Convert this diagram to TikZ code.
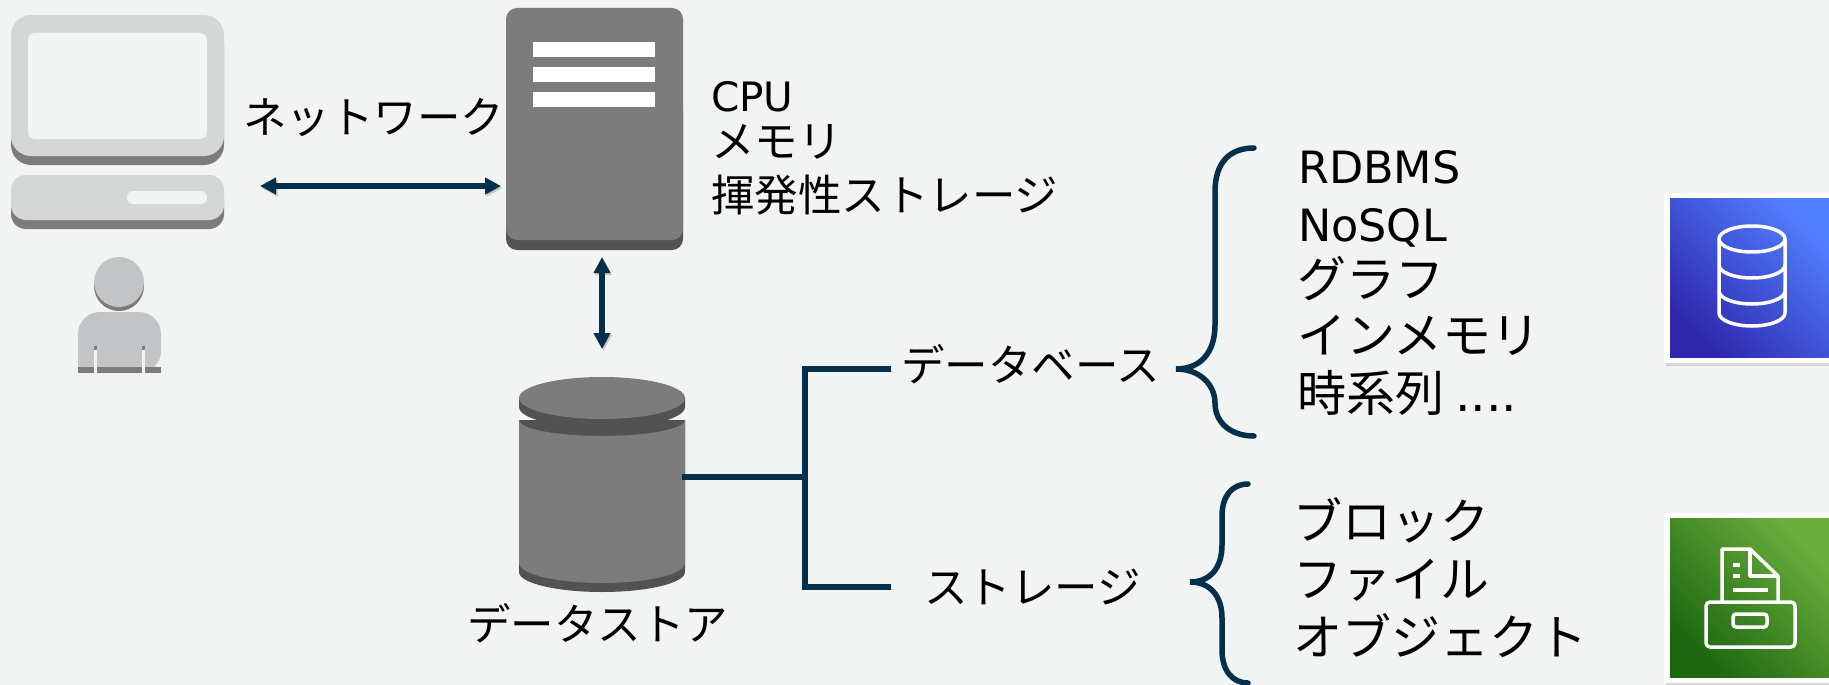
\documentclass[tikz,border=0pt]{standalone}
\usepackage{fontspec}
\setmainfont{Noto Sans CJK JP}
\newfontfamily\latinfont{DejaVu Sans}
\usetikzlibrary{arrows.meta}
\definecolor{fond}{HTML}{F2F4F3}
\definecolor{encre}{HTML}{04304B}
\definecolor{clair}{HTML}{D5D6D6}
\definecolor{moyen}{HTML}{7C7C7C}
\definecolor{sombre}{HTML}{525252}
\definecolor{buste}{HTML}{C3C4C6}
\definecolor{bleuA}{HTML}{2E27AD}
\definecolor{bleuB}{HTML}{527FFF}
\definecolor{vertA}{HTML}{1B660F}
\definecolor{vertB}{HTML}{6CAE3E}
\begin{document}
\begin{tikzpicture}[x=1pt,y=-1pt]
  \tikzstyle{texte}=[anchor=base west, inner sep=0pt, text=black, font=\fontsize{43.5}{50}\selectfont]
  \tikzstyle{grand}=[texte, font=\fontsize{49}{56}\selectfont]
  \tikzstyle{bloc}=[inner sep=0pt, anchor=north west]
  \tikzstyle{ombre}=[preaction={draw=black, opacity=.18, transform canvas={shift={(1.5pt,-2pt)}}}]
  \tikzstyle{lien}=[draw=encre, line width=6.5pt, ombre]
  \tikzstyle{fleche}=[{Triangle[length=16pt,width=16pt]}-{Triangle[length=16pt,width=16pt]}, draw=encre, line width=5.5pt]
  \tikzstyle{accolade}=[draw=encre, line width=5.5pt, line cap=round, ombre]
  \tikzstyle{trait}=[draw=white, line width=3.5pt, line join=round]
  \useasboundingbox (0,0) rectangle (1829,685);
  \fill[fond] (0,0) rectangle (1829,685);

  % poste
  \fill[moyen, rounded corners=20pt] (11,26) rectangle (224,165);
  \fill[clair, rounded corners=20pt] (11,15) rectangle (224,156);
  \fill[fond, rounded corners=7pt] (28,33) rectangle (207,139);
  \fill[moyen, rounded corners=15pt] (11,185) rectangle (224,229);
  \fill[clair, rounded corners=15pt] (11,175) rectangle (224,220);
  \fill[fond, rounded corners=6pt] (127,191) rectangle (207,204);
  \fill[moyen] (119,286) circle (25);
  \fill[buste] (119,282) circle (25);
  \fill[buste, rounded corners=22pt] (78,373) -- (78,312) -- (161,312) -- (161,373) [sharp corners] -- cycle;
  \fill[moyen] (78,367) rectangle (161,373);
  \foreach \x in {94,142} {
    \fill[moyen] (\x,346) rectangle ++(3,4);
    \fill[fond] (\x,350) rectangle ++(3,23);
  }

  % serveur
  \fill[sombre, rounded corners=11pt] (506,100) rectangle (683,250);
  \fill[moyen, rounded corners=11pt] (506,8) rectangle (683,240);
  \foreach \y in {42,67,92} {
    \fill[white] (533,\y) rectangle ++(122,15);
  }

  % base
  \fill[sombre] (519,420) -- (519,572) arc[start angle=180, end angle=0, x radius=83, y radius=20] -- (685,420) -- cycle;
  \fill[moyen] (519,420) -- (519,563) arc[start angle=180, end angle=0, x radius=83, y radius=20] -- (685,420) arc[start angle=0, end angle=180, x radius=83, y radius=16] -- cycle;
  \fill[sombre] (519,398) -- (519,407) arc[start angle=180, end angle=0, x radius=83, y radius=21] -- (685,398) -- cycle;
  \fill[moyen] (602,398) ellipse[x radius=83, y radius=21];

  \coordinate (posteD) at (260,186);
  \coordinate (serveurG) at (501,186);
  \coordinate (serveurB) at (602,257);
  \coordinate (baseH) at (602,349);
  \coordinate (baseD) at (682,477);
  \coordinate (noeudM) at (805,477);
  \coordinate (noeudH) at (805,369);
  \coordinate (noeudB) at (805,587);
  \coordinate (finH) at (891,369);
  \coordinate (finB) at (891,587);

  \draw[fleche, ombre] (posteD) -- (serveurG);
  \draw[fleche, ombre] (serveurB) -- (baseH);
  \draw[lien] (baseD) -- (noeudM);
  \draw[lien, line cap=butt] (finH) -- (noeudH) -- (noeudB) -- (finB);

  % accolades
  \draw[accolade] (1254,148) .. controls (1230,148) and (1215,162) .. (1215,192)
    -- (1215,325) .. controls (1215,353) and (1200,369) .. (1176,369)
    .. controls (1200,369) and (1215,385) .. (1215,403)
    .. controls (1215,422) and (1230,436) .. (1254,436);
  \draw[accolade] (1248,484) .. controls (1232,484) and (1222,496) .. (1222,516)
    -- (1222,545) .. controls (1222,568) and (1210,582) .. (1190,582)
    .. controls (1210,582) and (1222,596) .. (1222,618)
    -- (1222,650) .. controls (1222,670) and (1232,683) .. (1248,683);

  % textes
  \foreach \n/\x/\y/\t in {reseau/243/133/ネットワーク,
      memoire/711/157/メモリ, volatile/711/211/揮発性ストレージ,
      magasin/467/640/データストア, dbase/901/381/データベース,
      stockage/924/603/ストレージ} {
    \node[texte] (\n) at (\x,\y) {\t};
  }
  \foreach \n/\x/\y/\t in {graphe/1297/297/グラフ, inmem/1297/353/インメモリ,
      bloc/1293/539/ブロック, fichier/1293/597/ファイル, objet/1293/655/オブジェクト} {
    \node[grand] (\n) at (\x,\y) {\t};
  }
  \node[texte, font=\fontsize{40.5}{50}\selectfont] (cpu) at (711,111) {\latinfont CPU};
  \foreach \n/\y/\t in {rdbms/183/RDBMS, nosql/241/NoSQL} {
    \node[texte, font=\fontsize{44.5}{50}\selectfont] (\n) at (1298,\y) {\latinfont\t};
  }
  \node[grand] (temps) at (1297,411) {時系列 {\latinfont ....}};

  % icones
  \fill[black, opacity=.12] (1666,196) rectangle (1829,366);
  \fill[white] (1664,193) rectangle (1829,363);
  \node[bloc, minimum width=159pt, minimum height=159pt, shading=axis, bottom color=bleuA, top color=bleuB, shading angle=-45] (icondb) at (1670,198) {};
  \draw[trait] (1752,239) ellipse[x radius=33, y radius=13];
  \draw[trait] (1719,239) -- (1719,313) arc[start angle=180, end angle=0, x radius=33, y radius=13] -- (1785,239);
  \foreach \y in {265,291} {
    \draw[trait] (1719,\y) arc[start angle=180, end angle=0, x radius=33, y radius=13];
  }

  \fill[black, opacity=.12] (1666,516) rectangle (1829,685);
  \fill[white] (1664,513) rectangle (1829,683);
  \node[bloc, minimum width=159pt, minimum height=159pt, shading=axis, bottom color=vertA, top color=vertB, shading angle=-45] (iconst) at (1670,518) {};
  \draw[trait] (1722,602) -- (1722,549) -- (1750,549) -- (1778,576) -- (1778,602);
  \draw[trait] (1750,549) -- (1750,576) -- (1778,576);
  \foreach \y in {565,576} {
    \draw[trait] (1733,\y) -- (1740,\y);
  }
  \draw[trait] (1733,590) -- (1768,590);
  \draw[trait, rounded corners=4pt] (1706,602) rectangle (1795,647);
  \draw[trait, rounded corners=3pt] (1733,614) rectangle (1767,627);
\end{tikzpicture}
\end{document}
